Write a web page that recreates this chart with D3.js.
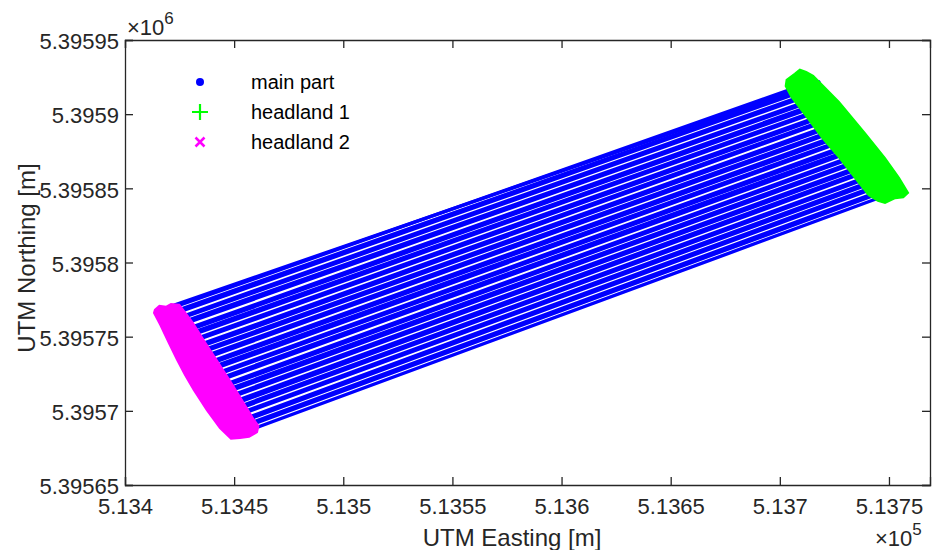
<!DOCTYPE html>
<html>
<head>
<meta charset="utf-8">
<script src="https://cdn.jsdelivr.net/npm/d3@7"></script>
<style>
  body { margin: 0; background: #fff; }
  text { font-family: "Liberation Sans", Arial, sans-serif; }
</style>
</head>
<body>
<svg width="933" height="550"></svg>
<script>
// axis ticks (metres) and their labels as printed with the x10^n factor
const xTicks = [513400, 513450, 513500, 513550, 513600, 513650, 513700, 513750];
const xTickLabels = ["5.134", "5.1345", "5.135", "5.1355", "5.136", "5.1365", "5.137", "5.1375"];
const yTicks = [5395650, 5395700, 5395750, 5395800, 5395850, 5395900, 5395950];
const yTickLabels = ["5.39565", "5.3957", "5.39575", "5.3958", "5.39585", "5.3959", "5.39595"];

// main part: one pass per entry, start (west end) and end (east end)
const passStartE = [513422.9, 513423.3, 513424.3, 513424.8, 513426.1, 513426.4, 513427.4, 513427.9, 513429.3,
  513429.7, 513430.6, 513431.1, 513432.3, 513432.6, 513433.9, 513434.4, 513435.4, 513435.8, 513436.9,
  513437.4, 513438.7, 513439.1, 513440.0, 513440.6, 513441.8, 513442.1, 513443.2, 513443.6, 513445.0,
  513445.4, 513446.3, 513446.8, 513448.0, 513448.4, 513449.6, 513450.1, 513451.1, 513451.6, 513452.7,
  513453.0, 513454.3, 513454.8, 513455.8, 513456.2, 513457.3];
const passStartN = [5395771.4, 5395770.4, 5395767.9, 5395766.7, 5395763.6, 5395762.8, 5395760.4, 5395759.1, 5395755.7,
  5395754.7, 5395752.5, 5395751.3, 5395748.5, 5395747.6, 5395744.4, 5395743.2, 5395740.7, 5395739.8, 5395737.0,
  5395735.9, 5395732.8, 5395731.8, 5395729.5, 5395728.2, 5395725.2, 5395724.4, 5395721.8, 5395720.7, 5395717.4,
  5395716.4, 5395714.0, 5395712.8, 5395710.0, 5395709.0, 5395706.0, 5395704.7, 5395702.2, 5395701.2, 5395698.4,
  5395697.6, 5395694.4, 5395693.3, 5395690.8, 5395689.8, 5395687.1];
const passEndE = [513717.9, 513715.1, 513716.1, 513716.5, 513717.5, 513717.9, 513719.1, 513719.4, 513720.4,
  513720.9, 513721.9, 513722.2, 513723.3, 513723.8, 513724.6, 513725.0, 513726.2, 513726.7, 513727.6,
  513728.0, 513729.1, 513729.6, 513730.5, 513730.8, 513732.0, 513732.4, 513733.3, 513733.8, 513734.9,
  513735.2, 513736.2, 513736.6, 513737.7, 513738.1, 513739.0, 513739.4, 513740.6, 513740.9, 513741.9,
  513742.4, 513743.3, 513743.7, 513744.8, 513745.2, 513746.2];
const passEndN = [5395921.7, 5395921.9, 5395919.4, 5395918.5, 5395916.1, 5395915.0, 5395912.1, 5395911.1, 5395908.8,
  5395907.5, 5395904.9, 5395904.2, 5395901.3, 5395900.3, 5395898.1, 5395897.3, 5395894.1, 5395893.1, 5395890.6,
  5395889.7, 5395887.0, 5395885.8, 5395883.4, 5395882.6, 5395879.6, 5395878.6, 5395876.5, 5395875.2, 5395872.4,
  5395871.6, 5395869.0, 5395868.1, 5395865.4, 5395864.3, 5395862.0, 5395861.0, 5395858.1, 5395857.2, 5395854.7,
  5395853.6, 5395851.2, 5395850.3, 5395847.5, 5395846.4, 5395844.0];

// headland 1 (east) outline of the covered area
const head1E = [513703.2, 513706.9, 513709.2, 513712.0, 513715.2, 513727.0, 513738.8, 513748.0, 513754.5, 513758.6,
  513756.5, 513752.8, 513748.2, 513745.0, 513740.8, 513734.6, 513727.5, 513719.6, 513711.8, 513705.5, 513702.8];
const head1N = [5395923.0, 5395927.1, 5395929.8, 5395928.4, 5395925.7, 5395908.2, 5395887.3, 5395870.5, 5395857.0, 5395847.0,
  5395844.2, 5395843.5, 5395840.3, 5395841.8, 5395845.5, 5395857.0, 5395870.5, 5395883.9, 5395899.4, 5395911.6, 5395919.0];

// headland 2 (west) outline of the covered area
const head2E = [513413.8, 513415.8, 513418.8, 513421.1, 513424.8, 513431.0, 513436.8, 513442.4, 513448.0, 513453.4,
  513458.4, 513461.0, 513460.4, 513456.8, 513452.7, 513448.6, 513443.6, 513437.6, 513431.6, 513427.6, 513424.0,
  513420.2, 513416.3, 513413.4];
const head2N = [5395768.0, 5395770.7, 5395770.0, 5395771.8, 5395771.4, 5395759.2, 5395745.7, 5395732.9, 5395720.1, 5395707.3,
  5395695.2, 5395689.8, 5395685.7, 5395682.6, 5395681.8, 5395681.4, 5395688.4, 5395700.6, 5395714.1, 5395724.2, 5395734.3,
  5395745.7, 5395757.9, 5395766.0];

const legendLabels = ["main part", "headland 1", "headland 2"];

const svg = d3.select("svg");
const plotLeft = 125, plotRight = 930, plotTop = 40, plotBottom = 485;
const axisColor = "#262626";

const x = d3.scaleLinear().domain([513400, 513768.8]).range([plotLeft, plotRight]);
const y = d3.scaleLinear().domain([5395650, 5395950]).range([plotBottom, plotTop]);

svg.append("clipPath").attr("id", "plotClip")
  .append("rect").attr("x", plotLeft).attr("y", plotTop)
  .attr("width", plotRight - plotLeft).attr("height", plotBottom - plotTop);

const plot = svg.append("g").attr("clip-path", "url(#plotClip)");

// main part passes
plot.append("g").selectAll("line")
  .data(d3.range(passStartE.length))
  .join("line")
  .attr("x1", i => x(passStartE[i]))
  .attr("y1", i => y(passStartN[i]))
  .attr("x2", i => x(passEndE[i]))
  .attr("y2", i => y(passEndN[i]))
  .attr("stroke", "#0000ff")
  .attr("stroke-width", 3.4)
  .attr("stroke-linecap", "round");

const outline = d3.line().x(d => x(d[0])).y(d => y(d[1])).curve(d3.curveLinearClosed);

plot.append("path")
  .attr("d", outline(d3.zip(head1E, head1N)))
  .attr("fill", "#00ff00")
  .attr("stroke", "#00ff00")
  .attr("stroke-width", 2.5);

plot.append("path")
  .attr("d", outline(d3.zip(head2E, head2N)))
  .attr("fill", "#ff00ff")
  .attr("stroke", "#ff00ff")
  .attr("stroke-width", 2.5);

// axes, MATLAB style: full box with inward ticks
const tickLen = 8;
const axes = svg.append("g");

axes.append("g")
  .attr("transform", `translate(0,${plotBottom})`)
  .call(d3.axisBottom(x).tickValues(xTicks).tickSize(-tickLen).tickPadding(13)
    .tickFormat((d, i) => xTickLabels[i]));
axes.append("g")
  .attr("transform", `translate(0,${plotTop})`)
  .call(d3.axisTop(x).tickValues(xTicks).tickSize(-tickLen).tickFormat(""));
const yAxisG = axes.append("g")
  .attr("transform", `translate(${plotLeft},0)`)
  .call(d3.axisLeft(y).tickValues(yTicks).tickSize(-tickLen).tickPadding(6)
    .tickFormat((d, i) => yTickLabels[i]));
axes.append("g")
  .attr("transform", `translate(${plotRight},0)`)
  .call(d3.axisRight(y).tickValues(yTicks).tickSize(-tickLen).tickFormat(""));

axes.selectAll(".domain").attr("stroke", axisColor).attr("stroke-width", 1.3);
axes.selectAll(".tick line").attr("stroke", axisColor).attr("stroke-width", 1.3);
axes.selectAll(".tick text")
  .attr("fill", axisColor)
  .style("font-family", "'Liberation Sans', Arial, sans-serif")
  .style("font-size", "22px");
yAxisG.selectAll(".tick text").attr("dy", "0.4em");

// exponent factors
const expY = svg.append("text").attr("x", 127).attr("y", 35).attr("fill", axisColor).style("font-size", "22px");
expY.append("tspan").text("×10");
expY.append("tspan").attr("dy", -11).style("font-size", "17px").text("6");

const expX = svg.append("text").attr("x", 875).attr("y", 546).attr("fill", axisColor).style("font-size", "22px");
expX.append("tspan").text("×10");
expX.append("tspan").attr("dy", -11).style("font-size", "17px").text("5");

// axis labels
svg.append("text")
  .attr("x", 512).attr("y", 546)
  .attr("text-anchor", "middle")
  .attr("fill", axisColor)
  .style("font-size", "24px")
  .text("UTM Easting [m]");

svg.append("text")
  .attr("transform", "translate(35,258) rotate(-90)")
  .attr("text-anchor", "middle")
  .attr("fill", axisColor)
  .style("font-size", "24px")
  .text("UTM Northing [m]");

// legend (no box)
const legend = svg.append("g");
const legendY = [82, 112, 142];
legend.append("circle").attr("cx", 200).attr("cy", legendY[0]).attr("r", 4).attr("fill", "#0000ff");
legend.append("path")
  .attr("d", `M192,${legendY[1]}H208M200,${legendY[1] - 8}V${legendY[1] + 8}`)
  .attr("stroke", "#00ff00").attr("stroke-width", 2.2);
legend.append("path")
  .attr("d", `M195.5,${legendY[2] - 4.5}L204.5,${legendY[2] + 4.5}M195.5,${legendY[2] + 4.5}L204.5,${legendY[2] - 4.5}`)
  .attr("stroke", "#ff00ff").attr("stroke-width", 2.5);
legend.selectAll("text")
  .data(legendLabels)
  .join("text")
  .attr("x", 251)
  .attr("y", (d, i) => legendY[i])
  .attr("dy", "0.36em")
  .attr("fill", "#000")
  .style("font-size", "20px")
  .text(d => d);
</script>
</body>
</html>
